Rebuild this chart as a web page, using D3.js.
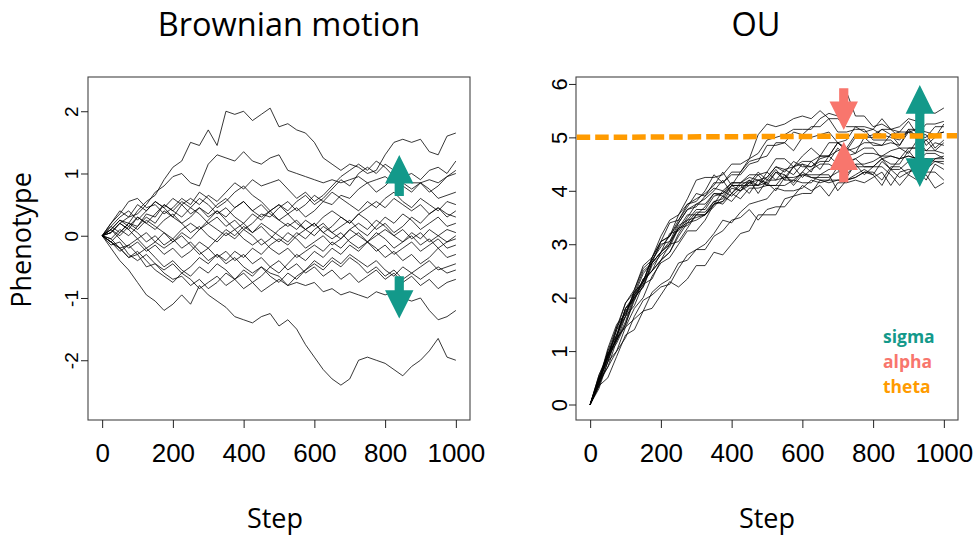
<!DOCTYPE html>
<html><head><meta charset="utf-8">
<script src="https://cdn.jsdelivr.net/npm/d3@7"></script>
<style>body{margin:0;background:#fff}</style>
</head><body><svg id="c" width="978" height="536"></svg>
<script>
// ---------- data ----------
const steps = [0,25,50,75,100,125,150,175,200,225,250,275,300,325,350,375,400,425,450,475,500,525,550,575,600,625,650,675,700,725,750,775,800,825,850,875,900,925,950,975,1000];

// Brownian motion paths (value at each step above)
const bm01 = [0,0.1,0.25,0.2,0.4,0.55,0.65,0.9,1.1,1.2, 1.5,1.45,1.7,1.45,2.0,1.95,2.0,1.85,1.95,2.05, 1.75,1.8,1.7,1.65,1.5,1.25,1.15,1.05,1.15,1.1, 1.0,1.05,1.3,1.5,1.55,1.5,1.55,1.35,1.3,1.6, 1.65];
const bm02 = [0,0.05,0.2,0.3,0.35,0.5,0.7,0.8,0.95,1.0, 0.85,0.8,1.15,1.3,1.25,1.2,1.35,1.2,1.15,1.25, 1.3,1.05,1.0,0.95,0.9,0.85,0.9,0.85,0.9,0.95, 0.85,0.9,0.95,0.85,0.9,0.85,0.85,0.9,0.85,0.95, 1.0];
const bm03 = [0,0.05,0.2,0.1,0.3,0.2,0.35,0.5,0.4,0.55, 0.45,0.6,0.5,0.35,0.45,0.3,0.2,0.35,0.25,0.4, 0.5,0.4,0.55,0.65,0.5,0.6,0.75,0.9,0.8,1.0, 1.1,1.0,1.15,1.05,0.95,1.0,0.9,1.05,1.1,1.0, 1.2];
const bm04 = [0,-0.05,0.1,0.0,0.15,0.3,0.2,0.4,0.3,0.5, 0.6,0.5,0.65,0.55,0.7,0.85,0.75,0.9,0.8,0.85, 0.9,0.75,0.6,0.7,0.55,0.65,0.8,0.95,1.05,1.15, 1.05,1.2,1.1,0.95,0.85,0.75,0.85,0.7,0.8,0.95, 1.05];
const bm05 = [0,0.2,0.35,0.55,0.6,0.45,0.5,0.35,0.45,0.6, 0.5,0.7,0.6,0.45,0.55,0.7,0.8,0.65,0.55,0.4, 0.5,0.35,0.45,0.3,0.4,0.55,0.5,0.65,0.6,0.75, 0.85,0.7,0.8,0.95,0.8,0.7,0.85,0.75,0.6,0.65, 0.7];
const bm06 = [0,-0.1,0.05,0.2,0.15,0.35,0.3,0.5,0.4,0.3, 0.45,0.35,0.2,0.3,0.15,0.25,0.1,0.2,0.35,0.3, 0.45,0.55,0.4,0.5,0.65,0.55,0.7,0.6,0.5,0.4, 0.55,0.45,0.6,0.7,0.55,0.45,0.6,0.5,0.4,0.55, 0.5];
const bm07 = [0,0.15,0.3,0.4,0.25,0.4,0.55,0.45,0.3,0.2, 0.05,0.15,0.0,-0.1,0.05,-0.05,0.1,0.0,-0.15,-0.05, 0.1,0.2,0.1,0.25,0.15,0.3,0.4,0.3,0.2,0.35, 0.25,0.1,0.2,0.05,0.15,0.3,0.2,0.35,0.45,0.35, 0.3];
const bm08 = [0,0.1,-0.05,-0.2,-0.1,-0.25,-0.15,-0.3,-0.2,-0.35, -0.25,-0.1,-0.2,-0.05,0.1,0.0,0.15,0.05,0.2,0.1, 0.0,-0.1,0.05,-0.05,0.1,0.2,0.05,0.15,0.25,0.1, 0.0,0.15,0.3,0.2,0.35,0.25,0.1,0.2,0.3,0.15, 0.2];
const bm09 = [0,-0.15,-0.1,-0.3,-0.4,-0.3,-0.45,-0.55,-0.45,-0.6, -0.5,-0.35,-0.45,-0.3,-0.4,-0.25,-0.35,-0.2,-0.3,-0.15, -0.05,-0.15,0.0,0.1,0.0,0.15,0.05,-0.05,0.1,0.2, 0.1,0.25,0.15,0.0,0.1,-0.05,0.05,-0.1,0.0,0.1, 0.05];
const bm10 = [0,0.2,0.4,0.3,0.5,0.4,0.55,0.45,0.6,0.5, 0.35,0.45,0.3,0.4,0.25,0.1,0.2,0.05,0.15,0.0, -0.1,0.05,-0.05,-0.2,-0.1,0.0,-0.15,-0.05,0.1,0.0, -0.1,0.05,-0.05,-0.2,-0.1,0.0,-0.15,-0.05,-0.2,-0.1, -0.05];
const bm11 = [0,0.1,0.25,0.15,0.3,0.2,0.1,0.25,0.35,0.2, 0.3,0.45,0.35,0.5,0.6,0.45,0.55,0.4,0.3,0.4, 0.25,0.15,0.25,0.1,0.2,0.05,-0.05,0.05,-0.1,-0.2, -0.1,-0.25,-0.15,-0.3,-0.2,-0.1,-0.25,-0.15,-0.05,-0.2, -0.15];
const bm12 = [0,-0.1,-0.2,-0.15,-0.3,-0.2,-0.35,-0.5,-0.4,-0.55, -0.65,-0.5,-0.6,-0.45,-0.55,-0.7,-0.6,-0.75,-0.65,-0.5, -0.6,-0.45,-0.3,-0.4,-0.25,-0.35,-0.2,-0.3,-0.15,-0.25, -0.1,-0.2,-0.35,-0.25,-0.4,-0.3,-0.45,-0.35,-0.2,-0.35, -0.3];
const bm13 = [0,0.1,0.0,0.15,0.05,-0.1,0.0,-0.15,-0.05,-0.2, -0.1,-0.25,-0.4,-0.3,-0.45,-0.35,-0.5,-0.6,-0.5,-0.65, -0.75,-0.6,-0.7,-0.55,-0.45,-0.55,-0.4,-0.5,-0.35,-0.45, -0.6,-0.5,-0.65,-0.55,-0.7,-0.6,-0.5,-0.4,-0.55,-0.5, -0.45];
const bm14 = [0,-0.05,-0.2,-0.35,-0.25,-0.4,-0.55,-0.65,-0.75,-0.6, -0.7,-0.85,-0.75,-0.65,-0.8,-0.7,-0.85,-0.75,-0.9,-0.8, -0.7,-0.8,-0.65,-0.55,-0.4,-0.5,-0.35,-0.45,-0.3,-0.4, -0.5,-0.4,-0.55,-0.65,-0.5,-0.6,-0.7,-0.6,-0.5,-0.6, -0.55];
const bm15 = [0,0.15,0.05,0.2,0.1,0.25,0.15,0.05,-0.1,0.0, -0.15,-0.3,-0.2,-0.35,-0.25,-0.4,-0.3,-0.45,-0.35,-0.5, -0.4,-0.55,-0.45,-0.6,-0.5,-0.65,-0.55,-0.7,-0.6,-0.75, -0.65,-0.55,-0.7,-0.6,-0.75,-0.65,-0.8,-0.7,-0.85,-0.75, -0.7];
const bm16 = [0,-0.1,-0.25,-0.15,-0.05,-0.2,-0.1,0.05,-0.05,0.1, 0.2,0.1,0.25,0.4,0.3,0.45,0.55,0.4,0.5,0.35, 0.25,0.35,0.2,0.1,0.2,0.05,0.15,0.3,0.2,0.35, 0.45,0.55,0.45,0.6,0.5,0.4,0.5,0.35,0.45,0.3, 0.4];
const bm17 = [0,0.05,0.2,0.1,-0.05,0.05,-0.1,-0.2,-0.1,0.05, -0.05,0.1,0.2,0.1,0.0,0.1,-0.05,-0.15,-0.05,-0.2, -0.3,-0.2,-0.35,-0.25,-0.15,-0.25,-0.1,-0.2,-0.05,0.05, -0.1,0.0,0.1,0.0,-0.1,0.05,-0.05,0.1,0.0,-0.1, 0.0];
const bm18 = [0,-0.1,-0.2,-0.35,-0.3,-0.5,-0.45,-0.6,-0.7,-0.65, -0.8,-0.7,-0.85,-0.75,-0.6,-0.7,-0.55,-0.65,-0.5,-0.6, -0.65,-0.8,-0.75,-0.8,-0.75,-0.9,-0.85,-0.95,-0.9,-0.95, -1.0,-0.9,-0.95,-0.9,-1.0,-1.05,-1.0,-1.2,-1.35,-1.3, -1.2];
const bm19 = [0,-0.2,-0.4,-0.55,-0.75,-0.95,-1.05,-1.2,-1.1,-0.95, -1.1,-0.8,-0.95,-1.05,-1.15,-1.3,-1.35,-1.4,-1.3,-1.25, -1.45,-1.35,-1.5,-1.75,-1.95,-2.15,-2.3,-2.4,-2.3,-2.0, -1.95,-2.0,-2.05,-2.15,-2.25,-2.1,-2.0,-1.85,-1.65,-1.95, -2.0];

// Ornstein-Uhlenbeck paths
const ou01 = [0,0.55,0.9,1.45,1.9,2.15,2.6,2.75,3.15,3.45, 3.55,3.85,4.2,4.25,4.25,4.3,4.5,4.5,4.6,5.05, 5.25,5.2,5.25,5.35,5.4,5.35,5.5,5.35,5.35,5.2, 5.2,5.2,5.15,5.05,5.0,4.95,5.15,5.15,5.1,5.05, 5.1];
const ou02 = [0,0.35,0.9,1.4,1.65,2.05,2.3,2.75,3.05,3.15, 3.45,3.75,3.8,4.0,4.3,4.15,4.35,4.35,4.6,4.7, 4.95,5.0,5.05,5.15,5.15,5.15,5.35,5.45,5.4,5.85, 5.4,5.4,5.2,5.25,5.15,5.0,5.1,5.15,4.85,5.0, 5.25];
const ou03 = [0,0.45,1.0,1.3,1.65,2.15,2.55,2.7,2.95,3.15, 3.55,3.75,3.85,3.95,4.1,4.35,4.1,4.35,4.55,4.6, 4.65,4.9,4.9,4.75,5.0,5.0,5.05,5.1,4.9,4.95, 5.2,5.1,5.15,5.35,5.15,5.2,5.35,5.3,5.5,5.45, 5.55];
const ou04 = [0,0.45,0.7,1.2,1.65,1.85,2.25,2.35,2.7,3.0, 3.05,3.3,3.55,3.55,3.8,3.75,3.95,4.1,3.95,4.2, 4.15,4.0,4.25,4.25,4.3,4.25,4.25,4.25,4.35,4.4, 4.45,4.45,4.45,4.6,4.5,4.5,4.75,4.55,4.7,4.7, 4.6];
const ou05 = [0,0.55,0.95,1.3,1.8,2.0,2.2,2.65,2.85,3.0, 3.3,3.4,3.6,3.6,3.8,3.85,4.1,4.1,4.2,3.95, 4.2,4.4,4.2,4.45,4.5,4.35,4.65,4.65,4.75,4.8, 4.7,5.0,4.85,4.85,5.05,4.85,5.15,5.0,5.0,5.2, 5.2];
const ou06 = [0,0.3,0.8,1.25,1.45,1.8,2.0,2.4,2.65,2.75, 3.0,3.25,3.25,3.45,3.75,3.8,3.95,3.85,4.05,4.05, 4.1,4.1,4.1,4.2,4.15,4.15,4.3,4.3,4.0,4.2, 4.25,4.35,4.35,4.2,4.45,4.45,4.3,4.6,4.4,4.55, 4.5];
const ou07 = [0,0.35,0.8,1.0,1.25,1.65,1.95,2.05,2.2,2.25, 2.55,2.8,2.9,3.0,3.2,3.45,3.4,3.6,3.75,3.8, 3.85,4.05,4.0,4.0,4.05,4.2,4.15,4.2,4.2,4.2, 4.3,4.4,4.3,4.55,4.4,4.4,4.55,4.5,4.6,4.55, 4.55];
const ou08 = [0,0.35,0.5,0.9,1.3,1.4,1.75,1.8,2.05,2.3, 2.2,2.35,2.6,2.6,2.85,2.8,3.0,3.2,3.25,3.55, 3.55,3.55,3.85,3.9,4.1,4.0,4.1,3.9,4.15,4.15, 4.2,4.15,4.25,4.35,4.1,4.35,4.4,4.35,4.35,4.35, 4.2];
const ou09 = [0,0.5,0.9,1.25,1.75,2.0,2.2,2.6,2.8,2.95, 3.3,3.35,3.55,3.55,3.75,3.8,4.05,4.0,4.15,4.1, 4.25,4.45,4.4,4.45,4.55,4.55,4.65,4.65,4.9,4.75, 4.8,4.9,4.9,4.85,4.9,4.85,5.1,4.95,4.95,5.05, 5.1];
const ou10 = [0,0.45,1.05,1.5,1.7,2.1,2.3,2.7,3.0,3.05, 3.3,3.55,3.55,3.7,3.95,3.95,4.1,4.0,4.2,4.1, 4.35,4.2,4.25,4.45,4.25,4.4,4.5,4.5,4.4,4.55, 4.6,4.7,4.7,4.65,4.75,4.8,4.7,4.95,4.75,4.9, 4.85];
const ou11 = [0,0.4,0.95,1.2,1.5,2.0,2.35,2.5,2.7,2.85, 3.2,3.45,3.5,3.55,3.75,4.0,3.9,4.05,4.15,4.2, 4.1,4.35,4.2,4.2,4.35,4.55,4.4,4.65,4.5,4.5, 4.6,4.45,4.45,4.45,4.3,4.1,4.3,4.2,4.3,4.05, 4.15];
const ou12 = [0,0.5,0.85,1.4,1.9,2.1,2.5,2.65,3.05,3.4, 3.45,3.7,3.95,3.9,4.05,4.0,4.15,4.15,4.15,4.35, 4.2,4.2,4.4,4.3,4.5,4.45,4.6,4.65,4.9,4.8, 5.05,5.0,5.0,5.15,5.05,5.1,5.3,5.05,5.25,5.25, 5.3];
const ou13 = [0,0.4,0.7,1.0,1.45,1.6,1.75,2.1,2.25,2.35, 2.65,2.7,2.9,2.9,3.15,3.25,3.45,3.5,3.65,3.45, 3.65,3.7,3.7,3.9,3.95,3.95,4.2,4.15,4.2,4.2, 4.25,4.35,4.3,4.1,4.4,4.25,4.35,4.4,4.2,4.5, 4.4];
const ou14 = [0,0.45,1.0,1.45,1.7,2.1,2.3,2.75,3.05,3.15, 3.4,3.65,3.7,3.9,4.15,4.15,4.3,4.3,4.5,4.55, 4.85,4.85,4.9,5.1,5.05,5.2,5.2,5.35,5.1,5.1, 5.15,5.15,4.95,4.95,4.95,4.8,4.8,4.8,4.75,4.75, 4.7];
const ou15 = [0,0.4,0.9,1.15,1.5,1.95,2.3,2.5,2.7,2.85, 3.15,3.4,3.45,3.55,3.7,3.9,3.8,4.0,4.1,4.1, 4.15,4.35,4.3,4.1,4.3,4.3,4.3,4.4,4.4,4.25, 4.5,4.5,4.55,4.65,4.65,4.6,4.8,4.8,4.95,4.75, 4.9];
const ou16 = [0,0.5,0.85,1.25,1.8,2.05,2.25,2.65,2.85,3.0, 3.35,3.45,3.65,3.65,3.9,3.95,4.15,4.15,4.25,4.2, 4.25,4.45,4.35,4.55,4.45,4.45,4.55,4.55,4.8,4.65, 4.7,4.8,4.8,4.6,4.65,4.6,4.65,4.6,4.4,4.6, 4.6];
const ou17 = [0,0.5,0.8,1.3,1.8,1.95,2.35,2.5,2.85,3.2, 3.25,3.5,3.75,3.75,3.95,3.9,4.1,4.1,4.1,4.3, 4.1,4.1,4.3,4.15,4.35,4.25,4.2,4.2,4.45,4.3, 4.5,4.3,4.45,4.6,4.4,4.6,4.65,4.6,4.6,4.6, 4.65];
const ou18 = [0,0.4,0.95,1.2,1.55,2.05,2.45,2.65,2.85,3.05, 3.4,3.65,3.75,3.85,4.0,4.2,3.95,4.15,4.3,4.3, 4.35,4.6,4.6,4.45,4.65,4.8,4.65,4.9,4.9,4.75, 5.0,5.0,5.05,5.15,5.15,5.1,5.1,5.05,5.05,4.8, 4.95];

const bmPaths = [bm01,bm02,bm03,bm04,bm05,bm06,bm07,bm08,bm09,bm10,bm11,bm12,bm13,bm14,bm15,bm16,bm17,bm18,bm19];
const ouPaths = [ou01,ou02,ou03,ou04,ou05,ou06,ou07,ou08,ou09,ou10,ou11,ou12,ou13,ou14,ou15,ou16,ou17,ou18];

const xTicks = [0,200,400,600,800,1000];
const bmYTicks = [-2,-1,0,1,2];
const ouYTicks = [0,1,2,3,4,5,6];
const titles = ["Brownian motion","OU"];
const xLabel = "Step";
const yLabel = "Phenotype";
const legendLabels = ["sigma","alpha","theta"];

// annotation values (in data units)
const thetaSteps = [-40,1040];
const thetaValues = [5.0,5.03];
const bmSigmaStep = 840;
const bmSigmaUp = [0.64,1.295];
const bmSigmaDown = [-0.65,-1.33];
const ouAlphaStep = 717;
const ouAlphaDown = [5.92,5.14];
const ouAlphaUp = [4.16,4.92];
const ouSigmaStep = 932;
const ouSigmaRange = [4.07,5.98];

// ---------- style ----------
const TEAL = "#13998a", PINK = "#F8766D", ORANGE = "#FF9B00";
const tickFont = "'Liberation Sans', Arial, Helvetica, sans-serif";
const textFont = "'Open Sans', sans-serif";

const svg = d3.select("#c");
svg.append("rect").attr("width",978).attr("height",536).attr("fill","#fff");

const panels = [
  {x0:88, x1:470, y0:77, y1:420, yDomain:[-2.96,2.55], yTicks:bmYTicks, paths:bmPaths,
   yFont:19, yLabelOff:9.7, title:titles[0], titleX:289, stepX:275},
  {x0:576, x1:958, y0:77, y1:420, yDomain:[-0.29,6.13], yTicks:ouYTicks, paths:ouPaths,
   yFont:22, yLabelOff:9.3, title:titles[1], titleX:756, stepX:767}
];

function arrowPoly(cx, yTail, yTip, hl=28.3, hh=14.2, sh=4.6){
  const dir = Math.sign(yTip - yTail);
  const base = yTip - dir*hl;
  return [[cx-sh,yTail],[cx-sh,base],[cx-hh,base],[cx,yTip],[cx+hh,base],[cx+sh,base],[cx+sh,yTail]];
}
function doubleArrowPoly(cx, yTop, yBot, hl=28.8, hh=14.2, sh=4.6){
  const bt = yTop + hl, bb = yBot - hl;
  return [[cx,yTop],[cx+hh,bt],[cx+sh,bt],[cx+sh,bb],[cx+hh,bb],[cx,yBot],[cx-hh,bb],[cx-sh,bb],[cx-sh,bt],[cx-hh,bt]];
}

panels.forEach((p,pi) => {
  const x = d3.scaleLinear().domain([-40,1040]).range([p.x0,p.x1]);
  const y = d3.scaleLinear().domain(p.yDomain).range([p.y1,p.y0]);
  p.x = x; p.y = y;
  const line = d3.line().x((d,i)=>x(steps[i])).y(d=>y(d));

  svg.append("g").selectAll("path").data(p.paths).join("path")
    .attr("d", line).attr("fill","none").attr("stroke","#000")
    .attr("stroke-width",0.85).attr("stroke-linejoin","round").attr("stroke-opacity",0.92);

  // box
  svg.append("rect").attr("x",p.x0).attr("y",p.y0).attr("width",p.x1-p.x0).attr("height",p.y1-p.y0)
    .attr("fill","none").attr("stroke","#444").attr("stroke-width",1.1);

  // x axis
  const xa = svg.append("g").attr("transform",`translate(0,${p.y1})`)
    .call(d3.axisBottom(x).tickValues(xTicks).tickSize(8).tickPadding(16).tickFormat(d=>String(d)));
  xa.select(".domain").remove();
  xa.selectAll("line").attr("stroke","#222");
  xa.selectAll("text").attr("fill","#000").style("font-family",tickFont).style("font-size","26px");

  // y axis
  const ya = svg.append("g").attr("transform",`translate(${p.x0},0)`)
    .call(d3.axisLeft(y).tickValues(p.yTicks).tickSize(7).tickFormat(d=>String(d)));
  ya.select(".domain").remove();
  ya.selectAll("line").attr("stroke","#222");
  ya.selectAll("text").attr("x",null).attr("dy",null).attr("text-anchor","middle")
    .attr("transform",`translate(${-p.yLabelOff},0) rotate(-90)`)
    .attr("fill","#000").style("font-family",tickFont).style("font-size",p.yFont+"px");

  // title
  svg.append("text").attr("x",p.titleX).attr("y",36).attr("text-anchor","middle")
    .style("font-family",textFont).style("font-size","32.5px").attr("fill","#000").text(p.title);
  // x label
  svg.append("text").attr("x",p.stepX).attr("y",528).attr("text-anchor","middle")
    .style("font-family",textFont).style("font-size","27px").attr("fill","#000").text(xLabel);
});

// y label (left panel only)
svg.append("text").attr("transform","translate(31,240) rotate(-90)").attr("text-anchor","middle")
  .style("font-family",textFont).style("font-size","27px").attr("fill","#000").text(yLabel);

// left panel sigma arrows
const L = panels[0], R = panels[1];
const poly = d3.line();
[bmSigmaUp, bmSigmaDown].forEach(a => {
  svg.append("path").attr("d", poly(arrowPoly(L.x(bmSigmaStep), L.y(a[0]), L.y(a[1])))+"Z").attr("fill",TEAL);
});

// right panel alpha arrows
[ouAlphaDown, ouAlphaUp].forEach(a => {
  svg.append("path").attr("d", poly(arrowPoly(R.x(ouAlphaStep), R.y(a[0]), R.y(a[1])))+"Z").attr("fill",PINK);
});
// right panel sigma double arrow
svg.append("path").attr("d", poly(doubleArrowPoly(R.x(ouSigmaStep), R.y(ouSigmaRange[1]), R.y(ouSigmaRange[0])))+"Z").attr("fill",TEAL);

// theta dashed line
svg.append("line")
  .attr("x1",R.x(thetaSteps[0])+0.7).attr("x2",R.x(thetaSteps[1])-1)
  .attr("y1",R.y(thetaValues[0])).attr("y2",R.y(thetaValues[1]))
  .attr("stroke",ORANGE).attr("stroke-width",5.5).attr("stroke-dasharray","13.5,5");

// legend
const legendColors = [TEAL, PINK, ORANGE];
const legendY = [342.5, 368, 393];
svg.append("g").selectAll("text").data(legendLabels).join("text")
  .attr("x",883).attr("y",(d,i)=>legendY[i]).attr("fill",(d,i)=>legendColors[i])
  .style("font-family",textFont).style("font-weight","bold").style("font-size","17.5px").text(d=>d);
</script>
</body></html>
